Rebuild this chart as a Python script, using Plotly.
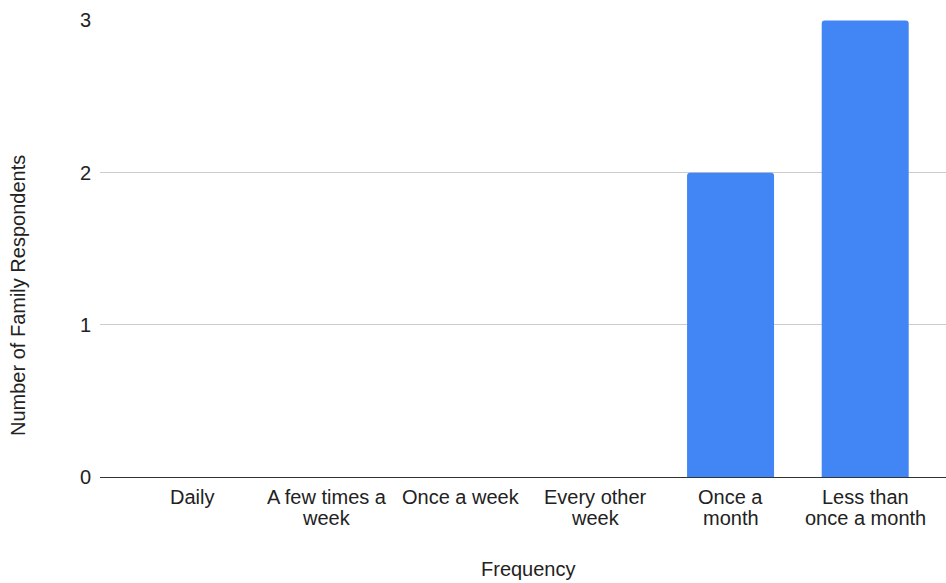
import plotly.graph_objects as go

# Survey responses: how often family respondents engage
categories = ["Daily", "A few times a<br>week", "Once a week", "Every other<br>week",
              "Once a<br>month", "Less than<br>once a month"]
respondents = [0, 0, 0, 0, 2, 3]
y_ticks = [0, 1, 2, 3]

FONT = "Liberation Sans, Arial, sans-serif"
TEXT = "#222222"
FS = 20

W, H = 946, 583
ML, MR, MT, MB = 100, 0, 20, 106
PW, PH = W - ML - MR, H - MT - MB


def px_x(px):
    return (px - ML) / PW


def px_y(py):
    return (H - MB - py) / PH


fig = go.Figure(
    go.Bar(
        x=list(range(len(categories))),
        y=respondents,
        marker=dict(color="#4285F4", cornerradius=3, line=dict(width=0)),
        hoverinfo="skip",
    )
)

# Category labels, one annotation per line for tighter line spacing
annotations = []
for i, label in enumerate(categories):
    for j, line in enumerate(label.split("<br>")):
        annotations.append(dict(
            text=line, x=i, xref="x", y=px_y(497 + 21 * j), yref="paper",
            xanchor="center", yanchor="middle", showarrow=False,
            font=dict(family=FONT, size=FS, color=TEXT),
        ))

annotations += [
    dict(text="Frequency", x=px_x(528), xref="paper", y=px_y(569), yref="paper",
         xanchor="center", yanchor="middle", showarrow=False,
         font=dict(family=FONT, size=FS, color=TEXT)),
    dict(text="Number of Family Respondents", textangle=-90,
         x=px_x(18), xref="paper", y=px_y(296), yref="paper",
         xanchor="center", yanchor="middle", showarrow=False,
         font=dict(family=FONT, size=FS, color=TEXT)),
]

fig.update_layout(
    width=W,
    height=H,
    margin=dict(l=ML, r=MR, t=MT, b=MB),
    paper_bgcolor="white",
    plot_bgcolor="white",
    bargap=0.354,
    showlegend=False,
    font=dict(family=FONT, size=FS, color=TEXT),
    xaxis=dict(
        range=[-0.683, 5.6],
        showticklabels=False,
        showgrid=False,
        zeroline=False,
        showline=False,
        ticks="",
    ),
    yaxis=dict(
        range=[0, 3.003],
        tickmode="array",
        tickvals=y_ticks,
        showgrid=True,
        gridcolor="#cccccc",
        gridwidth=1,
        zeroline=True,
        zerolinecolor="#333333",
        zerolinewidth=1,
        showline=False,
        ticks="",
        ticklabelstandoff=8,
        tickfont=dict(family=FONT, size=FS, color=TEXT),
    ),
    annotations=annotations,
)

fig.write_html("out.html")
